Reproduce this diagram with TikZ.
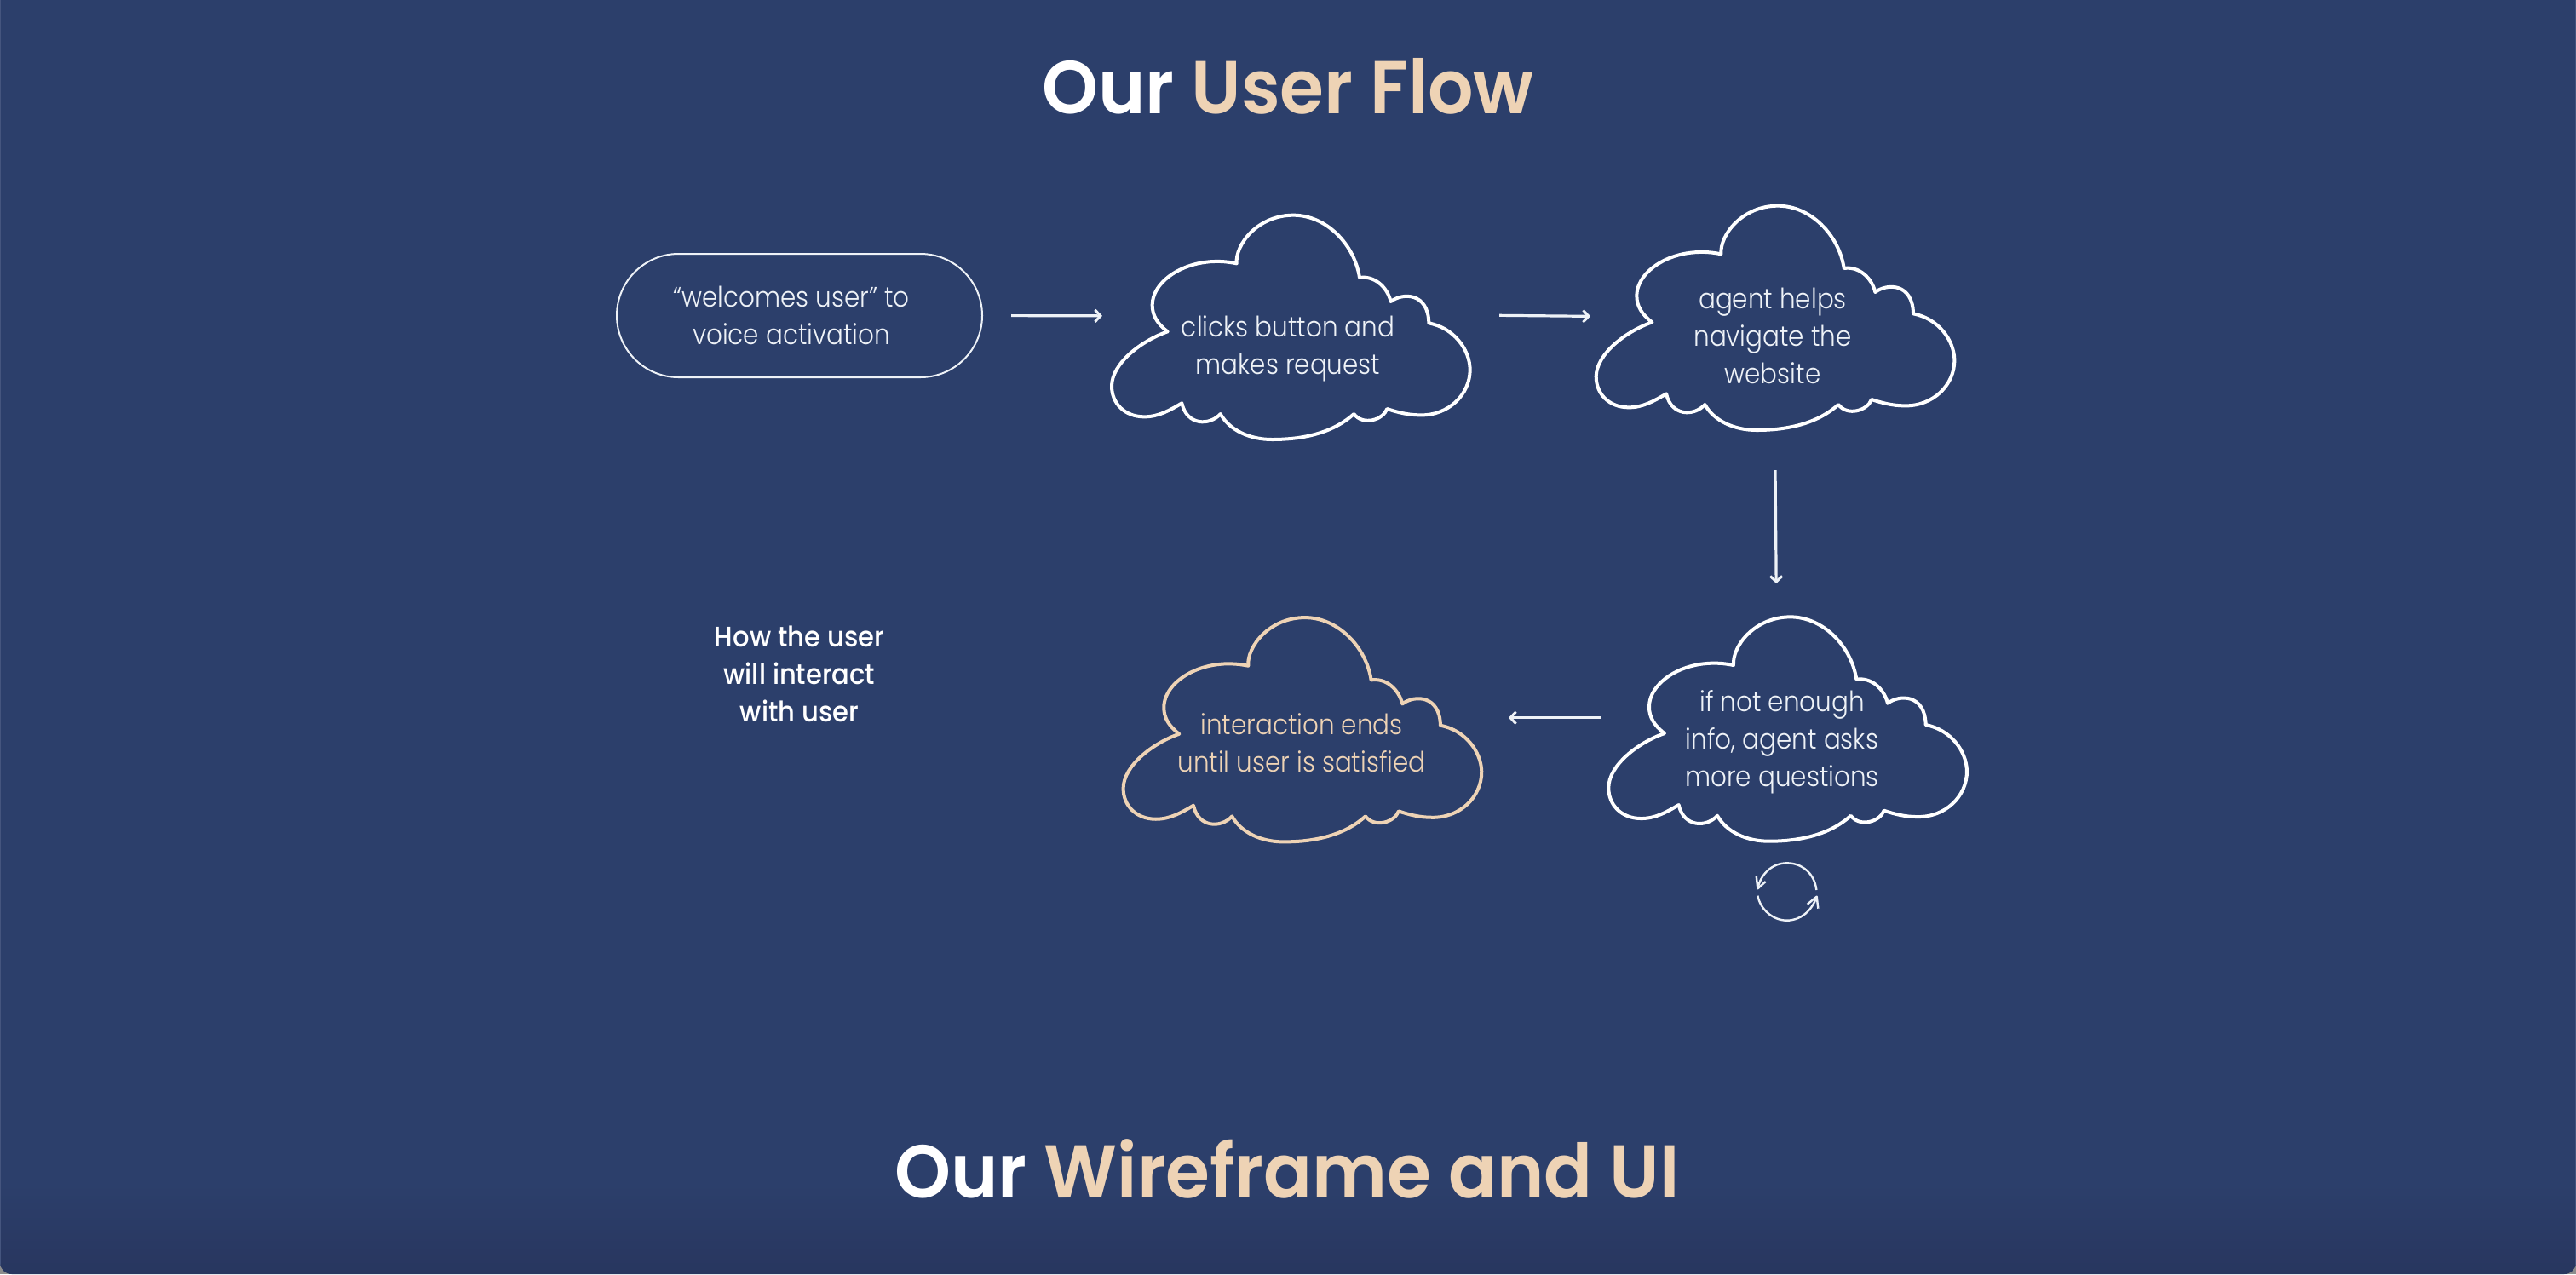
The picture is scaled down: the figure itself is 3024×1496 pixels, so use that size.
\documentclass[tikz,border=0pt]{standalone}
\usepackage{fontspec}
\usetikzlibrary{arrows.meta}
\newfontfamily\bodyf[FakeStretch=0.89]{Poppins Light}
\newfontfamily\medf[FakeStretch=0.92]{Poppins Medium}
\newfontfamily\titlef[FakeStretch=0.955]{Poppins SemiBold}
\definecolor{bgnavy}{HTML}{2C3F6B}
\definecolor{bgdark}{HTML}{28365F}
\definecolor{beige}{HTML}{EED3B5}
\definecolor{softwhite}{HTML}{EEF2F7}
\definecolor{cornergrey}{HTML}{8C8C8C}
\definecolor{edgeblue}{HTML}{45557E}
\tikzset{
  x=0.01cm,y=-0.01cm,
  cloudline/.style={line width=0.04cm,line join=round},
  flowline/.style={draw=softwhite,line width=0.032cm,-{Straight Barb[length=0.065cm,width=0.14cm,line width=0.03cm]}},
  bodytext/.style={font=\bodyf\fontsize{9.4pt}{12.52pt}\selectfont,align=center,inner sep=0pt,text=softwhite},
  sidetext/.style={font=\medf\fontsize{9.45pt}{12.52pt}\selectfont,align=center,inner sep=0pt,text=white},
  titletext/.style={font=\titlef\fontsize{25pt}{30pt}\selectfont,inner sep=0pt,anchor=base,text=white},
  loopline/.style={draw=softwhite,line width=0.024cm}
}
\newcommand{\cloudat}[3]{%
  \begin{scope}[shift={(#1,#2)},x=0.01cm/3,y=-0.01cm/3]
  \draw[cloudline,draw=#3]
    (515,238) .. controls (510,170) and (590,68) .. (715,68)
    .. controls (830,68) and (930,170) .. (948,288)
    .. controls (1000,280) and (1045,320) .. (1058,372)
    .. controls (1100,340) and (1190,340) .. (1192,448)
    .. controls (1280,465) and (1335,540) .. (1337,610)
    .. controls (1338,700) and (1260,775) .. (1160,772)
    .. controls (1120,772) and (1080,762) .. (1045,750)
    .. controls (1030,790) and (960,810) .. (928,768)
    .. controls (860,830) and (760,858) .. (640,858)
    .. controls (560,858) and (490,825) .. (458,768)
    .. controls (420,810) and (340,810) .. (322,730)
    .. controls (280,755) and (240,778) .. (190,778)
    .. controls (120,778) and (75,730) .. (75,670)
    .. controls (75,590) and (180,510) .. (272,478)
    .. controls (235,450) and (218,420) .. (218,385)
    .. controls (218,290) and (360,205) .. (515,238) -- cycle;
  \end{scope}}
\begin{document}
\begin{tikzpicture}
\useasboundingbox (0,0) rectangle (3024,1496);
% background
\fill[cornergrey] (0,0) rectangle (3024,1496);
\begin{scope}
  \clip[rounded corners=0.14cm] (0,-40) rectangle (3024,1496);
  \fill[bgnavy] (0,0) rectangle (3024,1496);
  \shade[top color=bgnavy,bottom color=bgdark] (0,1390) rectangle (3024,1496);
  \fill[edgeblue] (0,0) rectangle (1.5,1496);
  \fill[edgeblue] (3022.5,0) rectangle (3024,1496);
\end{scope}
% titles
\node[titletext] (title1) at (1512,133) {Our \textcolor{beige}{User Flow}};
\node[titletext] (title2) at (1511,1406) {Our \textcolor{beige}{Wireframe and UI}};
% clouds
\cloudat{1280}{230}{white}
\cloudat{1848.7}{219}{white}
\cloudat{1863.3}{701.7}{white}
\cloudat{1293.6}{702.4}{beige}
% start pill
\draw[draw=softwhite,line width=0.02cm,rounded corners=0.725cm] (724,298) rectangle (1153,443);
\node[bodytext] (pilltext) at (929,370) {“welcomes user” to\\voice activation};
\coordinate (pilleast) at (1153,370.5);
% cloud labels
\node[bodytext] (c1) at (1512,409) {clicks button and\\makes request};
\node[bodytext] (c2) at (2081,394) {agent helps\\navigate the\\website};
\node[bodytext] (c4) at (2092,871) {if not enough\\info, agent asks\\more questions};
\node[bodytext,text=beige] (c5) at (1528,872) {interaction ends\\until user is satisfied};
\node[sidetext] (side) at (938.5,791) {How the user\\will interact\\with user};
% connector ends on the cloud outlines
\coordinate (c1w) at (1355,371);
\coordinate (c1e) at (1677,369.5);
\coordinate (c2w) at (1934,372);
\coordinate (c2s) at (2083.6,505);
\coordinate (c4n) at (2085.5,724);
\coordinate (c4w) at (1937,842.7);
\coordinate (c5e) at (1690,842.7);
\draw[flowline,shorten <=0.34cm,shorten >=0.61cm] (pilleast) -- (c1w);
\draw[flowline,shorten <=0.83cm,shorten >=0.67cm] (c1e) -- (c2w);
\draw[flowline,shorten <=0.47cm,shorten >=0.39cm] (c2s) -- (c4n);
\draw[flowline,shorten <=0.58cm,shorten >=0.81cm] (c4w) -- (c5e);
% loop icon
\begin{scope}[shift={(1850,700)},x=0.01cm/3,y=-0.01cm/3]
  \draw[loopline] (847,1035) .. controls (840,975) and (795,940) .. (743,940) .. controls (690,940) and (650,980) .. (640,1030);
  \draw[loopline,line join=round] (668,1005) -- (640,1030) -- (635,985);
  \draw[loopline] (640,1055) .. controls (650,1105) and (695,1142) .. (743,1142) .. controls (790,1142) and (830,1110) .. (848,1058);
  \draw[loopline,line join=round] (815,1085) -- (848,1058) -- (853,1100);
\end{scope}
\end{tikzpicture}
\end{document}
